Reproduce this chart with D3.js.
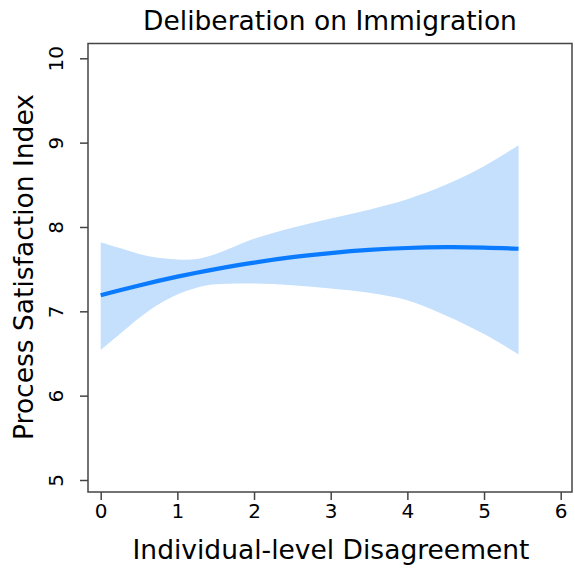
<!DOCTYPE html>
<html><head><meta charset="utf-8">
<script src="https://cdn.jsdelivr.net/npm/d3@7"></script>
<style>body{margin:0;background:#fff}svg{display:block}text{font-family:"DejaVu Sans",sans-serif;fill:#000}</style>
</head><body>
<svg id="c" width="575" height="569"></svg>
<script>
const xValues   = [0, 0.25, 0.5, 0.75, 1, 1.25, 1.5, 2, 2.5, 3, 3.5, 4, 4.5, 5, 5.45];
const fitValues = [7.19, 7.25, 7.307, 7.361, 7.411, 7.458, 7.501, 7.578, 7.642, 7.691, 7.728, 7.751, 7.76, 7.756, 7.742];
const upperValues = [7.82, 7.75, 7.68, 7.635, 7.615, 7.62, 7.68, 7.86, 7.99, 8.10, 8.205, 8.33, 8.50, 8.72, 8.97];
const lowerValues = [6.54, 6.73, 6.92, 7.08, 7.2, 7.28, 7.32, 7.33, 7.31, 7.27, 7.22, 7.13, 6.95, 6.73, 6.49];
const xTicks = [0, 1, 2, 3, 4, 5, 6];
const yTicks = [5, 6, 7, 8, 9, 10];
const title = "Deliberation on Immigration";
const xTitle = "Individual-level Disagreement";
const yTitle = "Process Satisfaction Index";

const svg = d3.select("#c");
const box = {l: 88, r: 572, t: 43.5, b: 492};
const x = d3.scaleLinear().domain([0, 6]).range([100.7, 560.7]);
const y = d3.scaleLinear().domain([5, 10]).range([480, 58.3]);
const data = xValues.map((v, i) => ({x: v, f: fitValues[i], u: upperValues[i], l: lowerValues[i]}));
const curve = d3.curveCatmullRom.alpha(0.5);

svg.append("path").datum(data)
  .attr("d", d3.area().x(d => x(d.x)).y0(d => y(d.l)).y1(d => y(d.u)).curve(curve))
  .attr("fill", "#c4e0fd");
svg.append("path").datum(data)
  .attr("d", d3.line().x(d => x(d.x)).y(d => y(d.f)).curve(curve))
  .attr("fill", "none").attr("stroke", "#0a7bff").attr("stroke-width", 4.2);

svg.append("rect").attr("x", box.l).attr("y", box.t).attr("width", box.r - box.l).attr("height", box.b - box.t)
  .attr("fill", "none").attr("stroke", "#444").attr("stroke-width", 1.5);

const xa = svg.append("g").attr("transform", `translate(0,${box.b})`)
  .call(d3.axisBottom(x).tickValues(xTicks).tickSize(8).tickPadding(4).tickFormat(d3.format("d")));
xa.select(".domain").remove();
xa.selectAll("line").attr("stroke", "#444").attr("stroke-width", 1.5);
xa.selectAll("text").attr("font-size", 20).attr("font-family", "DejaVu Sans").attr("fill", "#000");

const ya = svg.append("g").attr("transform", `translate(${box.l},0)`)
  .call(d3.axisLeft(y).tickValues(yTicks).tickSize(8).tickPadding(0).tickFormat(d3.format("d")));
ya.select(".domain").remove();
ya.selectAll("line").attr("stroke", "#444").attr("stroke-width", 1.5);
ya.selectAll("text").attr("font-size", 20).attr("font-family", "DejaVu Sans").attr("fill", "#000")
  .attr("x", null).attr("dy", null).attr("text-anchor", "middle")
  .attr("transform", "translate(-25,0) rotate(-90)").attr("y", 0);

svg.append("text").attr("x", 330).attr("y", 29.5).attr("text-anchor", "middle").attr("font-size", 26.5).text(title);
svg.append("text").attr("x", 331).attr("y", 559).attr("text-anchor", "middle").attr("font-size", 26.5).text(xTitle);
svg.append("text").attr("transform", "translate(32.5,267) rotate(-90)").attr("text-anchor", "middle").attr("font-size", 26.5).text(yTitle);
</script>
</body></html>
